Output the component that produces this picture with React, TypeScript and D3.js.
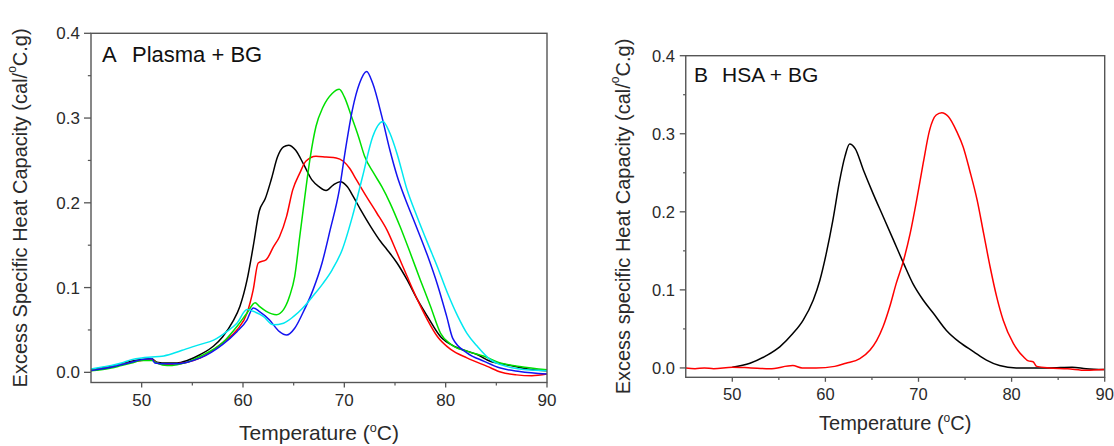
import React from "react";
import * as d3 from "d3";

type Pt = [number, number];

// ---------- Data (Temperature °C, Excess specific heat capacity cal/°C.g) ----------
const xMajorTicks = [50, 60, 70, 80, 90];
const xMinorTicks = [55, 65, 75, 85];
const yMajorTicks = [0, 0.1, 0.2, 0.3, 0.4];
const yMinorTicks = [0.05, 0.15, 0.25, 0.35];

// Panel A: Plasma + BG
const plasmaBlack: Pt[] = [
  [45, 0.003], [46, 0.005], [47, 0.007], [48, 0.01], [49, 0.013], [50, 0.015], [51, 0.016], [51.5, 0.012],
  [52.5, 0.011], [53.5, 0.011], [54.5, 0.014], [55.8, 0.021], [57.1, 0.031], [58, 0.042], [59, 0.06],
  [59.7, 0.078], [60.4, 0.109], [61, 0.148], [61.6, 0.19], [62.2, 0.205], [62.8, 0.228], [63.4, 0.254],
  [64, 0.266], [64.5, 0.268], [65.2, 0.262], [66, 0.245], [66.8, 0.227], [67.5, 0.219], [68.2, 0.2145],
  [68.9, 0.221], [69.6, 0.225], [70.3, 0.219], [70.9, 0.207], [71.6, 0.192], [72.6, 0.172], [73.6, 0.154],
  [74.2, 0.145], [75.2, 0.129], [76.2, 0.109], [77.2, 0.086], [78.2, 0.066], [79.5, 0.042], [80.8, 0.031],
  [82.1, 0.025], [83.1, 0.021], [84.4, 0.013], [86, 0.009], [88.6, 0.003], [90, 0.002],
];
const plasmaRed: Pt[] = [
  [45, 0.002], [46, 0.004], [47, 0.006], [48, 0.009], [49, 0.012], [50, 0.014], [51, 0.015], [51.5, 0.011],
  [52.5, 0.009], [53.5, 0.01], [54.5, 0.012], [55.8, 0.017], [58, 0.035], [59.4, 0.05], [60.4, 0.07],
  [61, 0.097], [61.5, 0.129], [62.3, 0.133], [63, 0.148], [63.6, 0.16], [64.3, 0.184], [64.9, 0.215],
  [65.6, 0.235], [66.2, 0.249], [67.2, 0.255], [68.2, 0.254], [69.2, 0.253], [69.9, 0.249], [70.5, 0.241],
  [71.2, 0.227], [72.2, 0.207], [73.2, 0.188], [74.2, 0.168], [75.2, 0.141], [76.2, 0.113], [77.2, 0.086],
  [78.2, 0.062], [79.2, 0.042], [80.5, 0.027], [82.1, 0.017], [84.1, 0.007], [85.5, 0.0], [87, -0.003],
  [88.5, -0.004], [90, -0.002],
];
const plasmaGreen: Pt[] = [
  [45, 0.002], [46, 0.003], [47, 0.005], [48, 0.008], [49, 0.011], [50, 0.014], [51, 0.014], [51.5, 0.011],
  [52.5, 0.008], [53.5, 0.009], [54.5, 0.012], [55.8, 0.019], [58, 0.035], [59.4, 0.054], [60.4, 0.07],
  [61.2, 0.082], [61.6, 0.078], [62.3, 0.072], [63.3, 0.068], [64, 0.074], [64.6, 0.09], [65.1, 0.113],
  [65.6, 0.16], [66.1, 0.207], [66.6, 0.251], [67.2, 0.29], [67.9, 0.313], [68.8, 0.329], [69.5, 0.334],
  [70, 0.325], [70.7, 0.302], [71.4, 0.278], [72, 0.255], [72.9, 0.235], [73.7, 0.219], [74.5, 0.2],
  [75.5, 0.172], [76.5, 0.141], [77.5, 0.109], [78.5, 0.078], [79.5, 0.046], [80.5, 0.033], [82.1, 0.025],
  [83.8, 0.019], [85.4, 0.011], [87.3, 0.007], [90, 0.003],
];
const plasmaBlue: Pt[] = [
  [45, 0.002], [46, 0.004], [47, 0.006], [48, 0.009], [49, 0.012], [50, 0.015], [51, 0.016], [51.3, 0.011],
  [52.5, 0.01], [53.5, 0.01], [54.5, 0.012], [55.8, 0.017], [58, 0.033], [59.4, 0.048], [60.4, 0.062],
  [61, 0.076], [61.6, 0.072], [62.6, 0.062], [63.6, 0.048], [64.3, 0.044], [65.1, 0.052], [65.9, 0.07],
  [66.9, 0.097], [67.8, 0.129], [68.6, 0.168], [69.5, 0.215], [70.1, 0.262], [70.8, 0.31], [71.5, 0.341],
  [72.2, 0.355], [72.8, 0.341], [73.7, 0.302], [74.5, 0.262], [75.2, 0.232], [76, 0.205], [77, 0.175],
  [78.2, 0.138], [79.2, 0.103], [80.1, 0.066], [80.7, 0.04], [82.1, 0.023], [83.8, 0.013], [85.4, 0.005],
  [87.3, 0.001], [90, -0.002],
];
const plasmaCyan: Pt[] = [
  [45, 0.004], [46, 0.006], [47, 0.008], [48, 0.011], [49, 0.015], [50, 0.017], [51, 0.018], [52, 0.019],
  [53, 0.022], [54, 0.026], [55, 0.03], [55.8, 0.033], [57.1, 0.038], [58.4, 0.048], [59.4, 0.058],
  [60.4, 0.074], [61, 0.072], [62, 0.066], [63, 0.056], [64, 0.058], [65, 0.066], [65.9, 0.076],
  [66.9, 0.09], [67.9, 0.105], [68.8, 0.121], [69.8, 0.145], [70.8, 0.184], [71.8, 0.231], [72.8, 0.278],
  [73.8, 0.296], [74.5, 0.282], [75.2, 0.258], [76.2, 0.215], [77.2, 0.183], [78.2, 0.153], [79.2, 0.124],
  [80.2, 0.093], [81.2, 0.066], [82.1, 0.046], [83.1, 0.031], [84.4, 0.015], [86, 0.007], [88, 0.003],
  [90, 0.002],
];

// Panel B: HSA + BG
const hsaBlack: Pt[] = [
  [50, 0.001], [51.9, 0.006], [53.7, 0.016], [55.1, 0.027], [56.5, 0.044], [57.6, 0.061], [58.7, 0.087],
  [59.4, 0.112], [60.1, 0.147], [60.8, 0.189], [61.5, 0.238], [62.1, 0.271], [62.6, 0.287], [63.2, 0.281],
  [64.1, 0.253], [65.1, 0.224], [66.2, 0.194], [67.3, 0.164], [68.4, 0.134], [69.4, 0.108], [70.5, 0.087],
  [71.6, 0.07], [73, 0.048], [74.4, 0.033], [75.9, 0.021], [77.3, 0.01], [78.7, 0.003], [80.5, 0],
  [84, 0.0], [86.5, 0.001], [88, -0.001], [90, -0.002],
];
const hsaRed: Pt[] = [
  [45, 0.0], [46, -0.001], [47, 0.0], [48, -0.001], [50, 0.001], [52, 0.0], [54, -0.001], [56.5, 0.003],
  [57.5, 0.0], [59, 0.0], [61, 0.002], [62.2, 0.006], [63.7, 0.012], [64.8, 0.023], [65.5, 0.035],
  [66.2, 0.053], [66.9, 0.078], [67.6, 0.108], [68.4, 0.138], [69.1, 0.172], [69.8, 0.215], [70.5, 0.262],
  [71.2, 0.305], [71.9, 0.324], [72.5, 0.327], [73.2, 0.322], [74.1, 0.303], [74.8, 0.283], [75.5, 0.253],
  [76.3, 0.215], [77, 0.172], [77.7, 0.129], [78.4, 0.091], [79.1, 0.061], [80.2, 0.031], [81.3, 0.014],
  [81.8, 0.009], [82.3, 0.008], [82.7, 0.002], [84, 0.0], [86, -0.001], [88, -0.003], [90, -0.002],
];

// ---------- Drawing ----------
const FONT = "'Liberation Sans', Arial, Helvetica, sans-serif";
const AXIS = "#555";
const TEXT = "#2a2a2a";

type Series = { data: Pt[]; color: string };

type PanelProps = {
  left: number; right: number; top: number; bottom: number;
  series: Series[];
  letter: string; letterX: number; title: string; titleX: number; titleY: number; titleSize: number;
  yLabel: string; yLabelX: number; yLabelSize: number;
  xLabelY: number; xLabelSize: number;
  tickSize: number; xTickLabelY: number; yTickLabelX: number;
  yTickLen: number; xTickLen: number;
};

function Panel(p: PanelProps) {
  const x = d3.scaleLinear().domain([45, 90]).range([p.left, p.right]);
  const y = d3.scaleLinear().domain([-0.012, 0.4]).range([p.bottom, p.top]);
  const line = d3.line<Pt>().x((d) => x(d[0])).y((d) => y(d[1])).curve(d3.curveMonotoneX);
  const fmt = d3.format(".1f");
  const midX = (p.left + p.right) / 2;
  const midY = (p.top + p.bottom) / 2;
  const supSize = p.xLabelSize * 0.6;
  const supSizeY = p.yLabelSize * 0.6;
  return (
    <g>
      {p.series.map((s, i) => (
        <path key={i} d={line(s.data) || ""} fill="none" stroke={s.color} strokeWidth={1.5} strokeLinejoin="round" />
      ))}
      <rect x={p.left} y={p.top} width={p.right - p.left} height={p.bottom - p.top} fill="none" stroke={AXIS} strokeWidth={1.4} />
      {xMajorTicks.map((t) => (
        <g key={"xm" + t}>
          <line x1={x(t)} x2={x(t)} y1={p.bottom} y2={p.bottom + p.xTickLen} stroke={AXIS} strokeWidth={1.3} />
          <text x={x(t)} y={p.xTickLabelY} textAnchor="middle" fontSize={p.tickSize} fontFamily={FONT} fill={TEXT}>{t}</text>
        </g>
      ))}
      {xMinorTicks.map((t) => (
        <line key={"xn" + t} x1={x(t)} x2={x(t)} y1={p.bottom} y2={p.bottom + p.xTickLen * 0.6} stroke={AXIS} strokeWidth={1.2} />
      ))}
      {yMajorTicks.map((t) => (
        <g key={"ym" + t}>
          <line x1={p.left - p.yTickLen} x2={p.left} y1={y(t)} y2={y(t)} stroke={AXIS} strokeWidth={1.3} />
          <text x={p.yTickLabelX} y={y(t)} dy="0.36em" textAnchor="end" fontSize={p.tickSize} fontFamily={FONT} fill={TEXT}>{fmt(t)}</text>
        </g>
      ))}
      {yMinorTicks.map((t) => (
        <line key={"yn" + t} x1={p.left - p.yTickLen * 0.45} x2={p.left} y1={y(t)} y2={y(t)} stroke={AXIS} strokeWidth={1.2} />
      ))}
      <text x={p.letterX} y={p.titleY} fontSize={p.titleSize} fontFamily={FONT} fill="#111">{p.letter}</text>
      <text x={p.titleX} y={p.titleY} fontSize={p.titleSize} fontFamily={FONT} fill="#111">{p.title}</text>
      <text x={midX} y={p.xLabelY} textAnchor="middle" fontSize={p.xLabelSize} fontFamily={FONT} fill={TEXT}>
        Temperature (<tspan dy={-p.xLabelSize * 0.4} fontSize={supSize}>o</tspan>
        <tspan dy={p.xLabelSize * 0.4}>C)</tspan>
      </text>
      <text transform={`translate(${p.yLabelX},${midY}) rotate(-90)`} textAnchor="middle" dominantBaseline="central"
        fontSize={p.yLabelSize} fontFamily={FONT} fill={TEXT}>
        {p.yLabel} (cal/<tspan dy={-p.yLabelSize * 0.4} fontSize={supSizeY}>o</tspan>
        <tspan dy={p.yLabelSize * 0.4}>C.g)</tspan>
      </text>
    </g>
  );
}

export default function App() {
  return (
    <svg width={1114} height={446} style={{ position: "absolute", left: 0, top: 0, background: "#fff" }}>
      <rect x={0} y={0} width={1114} height={446} fill="#fff" />
      <Panel
        left={91} right={547} top={33.3} bottom={382.5}
        series={[
          { data: plasmaBlack, color: "#000000" },
          { data: plasmaRed, color: "#ff0000" },
          { data: plasmaGreen, color: "#00e000" },
          { data: plasmaBlue, color: "#1414f0" },
          { data: plasmaCyan, color: "#00e8f0" },
        ]}
        letter="A" letterX={102} title="Plasma + BG" titleX={132} titleY={62} titleSize={22}
        yLabel="Excess Specific Heat Capacity" yLabelX={20} yLabelSize={20}
        xLabelY={440} xLabelSize={21}
        tickSize={17} xTickLabelY={406} yTickLabelX={80}
        yTickLen={7} xTickLen={5}
      />
      <Panel
        left={685.75} right={1104.7} top={55.7} bottom={377.3}
        series={[
          { data: hsaBlack, color: "#000000" },
          { data: hsaRed, color: "#ff0000" },
        ]}
        letter="B" letterX={694} title="HSA + BG" titleX={722} titleY={82} titleSize={21}
        yLabel="Excess specific Heat Capacity" yLabelX={623} yLabelSize={20}
        xLabelY={430} xLabelSize={20}
        tickSize={16.5} xTickLabelY={400} yTickLabelX={675}
        yTickLen={6} xTickLen={4.5}
      />
    </svg>
  );
}
